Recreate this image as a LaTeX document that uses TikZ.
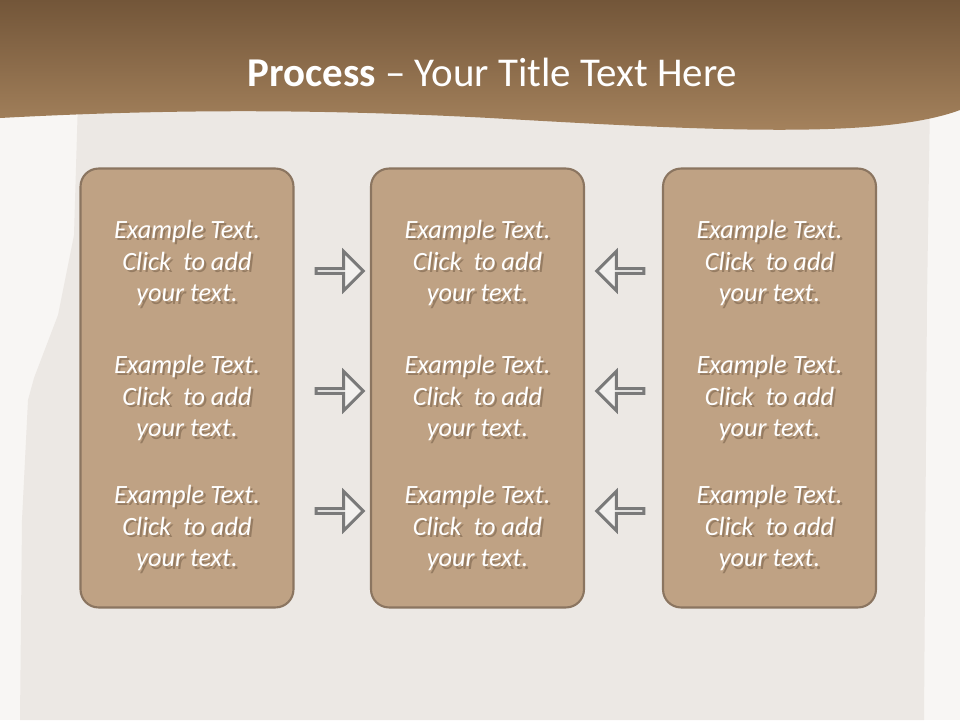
\documentclass[tikz,border=0pt]{standalone}
\usepackage{fontspec}
\setmainfont{Carlito}
\usetikzlibrary{shapes.arrows}

\definecolor{pagebg}{HTML}{F8F6F4}
\definecolor{paper}{HTML}{ECE8E4}
\definecolor{bandtop}{HTML}{735639}
\definecolor{bandbottom}{HTML}{A8855F}
\definecolor{boxfill}{HTML}{BFA284}
\definecolor{boxline}{HTML}{8B7560}
\definecolor{txtshadow}{HTML}{6E5842}
\definecolor{arrowline}{HTML}{7A7A7A}
\definecolor{arrowfill}{HTML}{F3F1EF}

\begin{document}
\begin{tikzpicture}[
          x=0.02cm, y=-0.02cm,
          stage box/.style={draw=boxline, fill=boxfill, line width=1.2pt, rounded corners=0.36cm,
                            minimum width=4.26cm, minimum height=8.78cm, inner sep=0pt},
          cell text/.style={text=white, align=center, inner sep=0pt,
                            font=\fontsize{15}{18.1}\selectfont\itshape},
          cell shadow/.style={cell text, text=txtshadow, opacity=0.5, xshift=1.3pt, yshift=-1.3pt},
          flow arrow/.style={single arrow, draw=arrowline, fill=arrowfill, line width=1.7pt,
                             minimum height=0.94cm, minimum width=0.78cm, inner sep=0pt,
                             single arrow head extend=0.21cm, single arrow head indent=0pt},
      ]

      % page and torn paper
      \fill[pagebg] (0,0) rectangle (960,720);
      \fill[paper] (78,100) -- (930,100) -- (927,300) -- (924,720) -- (20,720) -- (22,520)
          -- (28,400) -- (34,378) -- (58,315) -- (74,235) -- cycle;

      % title band
      \shade[top color=bandtop, bottom color=bandbottom] (0,0) -- (960,0) -- (960,110)
          .. controls (880,140) and (700,130) .. (490,118)
          .. controls (300,108) and (150,110) .. (0,118) -- cycle;
      \node[text=white, anchor=base, font=\fontsize{23.3}{28}\selectfont] (title) at (492.5,86)
          {\textbf{Process} -- Your Title Text Here};

      % three stage boxes with their texts
      \foreach \cx [count=\i] in {187,477.5,769.5} {
          \node[stage box] (box-\i) at (\cx,388) {};
          \foreach \cy [count=\j] in {263,398,528} {
              \node[cell shadow] at (\cx,\cy) {Example Text.\\Click~ to add\\your text.};
              \node[cell text] (txt-\i-\j) at (\cx,\cy) {Example Text.\\Click~ to add\\your text.};
          }
      }

      % arrows into the middle box
      \foreach \cy [count=\j] in {271,391,511} {
          \node[flow arrow] (fwd-\j) at (338.5,\cy) {};
          \node[flow arrow, shape border rotate=180] (back-\j) at (621.5,\cy) {};
      }

      \end{tikzpicture}
\end{document}
